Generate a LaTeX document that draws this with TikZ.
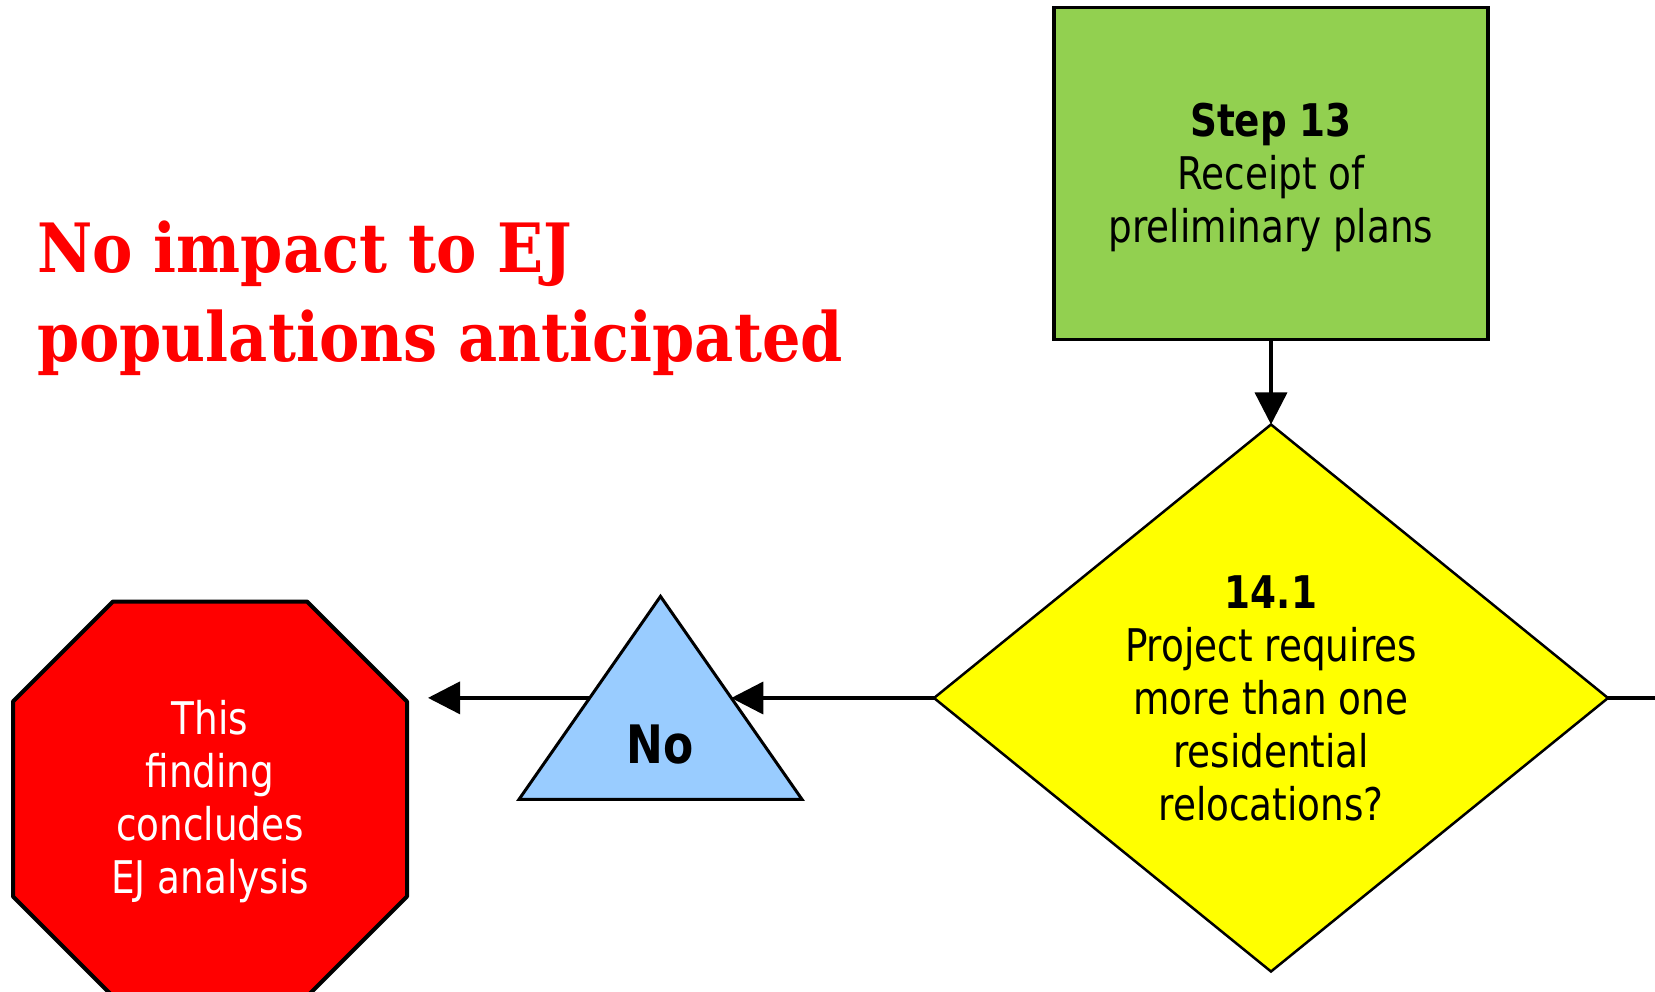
\documentclass[tikz,border=0pt]{standalone}
\usepackage{fontspec}
\usepackage{tikz}
\usetikzlibrary{shapes.geometric, arrows.meta, positioning, backgrounds}

\newfontfamily\tahoma{DejaVu Sans}[FakeStretch=0.83]
\newfontfamily\slab{DejaVu Serif}[FakeStretch=0.89]

\definecolor{stepgreen}{HTML}{92D050}
\definecolor{askyellow}{HTML}{FFFF00}
\definecolor{noblue}{HTML}{99CCFF}
\definecolor{stopred}{HTML}{FF0000}

\tikzset{
  every node/.style={outer sep=0pt, inner sep=0pt},
  flowtext/.style={font=\tahoma\fontsize{45}{53}\selectfont, align=center},
  stepbox/.style={rectangle, draw, line width=3.5pt, fill=stepgreen,
    minimum width=434pt, minimum height=332pt, flowtext},
  askdiamond/.style={diamond, aspect=1.232, draw, line width=2.5pt, fill=askyellow,
    minimum width=674pt, minimum height=547pt, flowtext},
  answer/.style={isosceles triangle, isosceles triangle stretches,
    shape border rotate=90, draw, line width=3pt, fill=noblue,
    minimum width=283pt, minimum height=203pt,
    font=\tahoma\bfseries\fontsize{53}{60}\selectfont},
  stopsign/.style={rectangle, minimum width=394pt, minimum height=395pt,
    text=white, flowtext},
  octagon/.style={draw, line width=4pt, fill=stopred, line join=round},
  arr/.style={-{Triangle[length=32pt,width=32pt]}, line width=3.5pt},
}

\begin{document}
\begin{tikzpicture}[x=1pt, y=1pt]
\useasboundingbox (0,0) rectangle (1655,-991);
\node[askdiamond] (q141) at (1271,-698)
  {\textbf{14.1}\\Project requires\\more than one\\residential\\relocations?};
\node[stepbox, above=85pt of q141] (s13)
  {\rule{0pt}{41pt}\textbf{Step 13}\\Receipt of\\preliminary plans};
\node[answer] (no) at (660.5,-735) {\rule{0pt}{58pt}No};
\node[stopsign] (stop) at (210,-799)
  {\rule{0pt}{39pt}This\\finding\\concludes\\EJ analysis};
\node[anchor=base west, align=left, text=stopred,
  font=\slab\bfseries\fontsize{68}{89}\selectfont] (ejnote) at (37,-361)
  {No impact to EJ\\populations anticipated};
\coordinate (yes) at (1655,-698);
% stop sign outline behind its text
\begin{scope}[on background layer]
\draw[octagon] ([xshift=100pt]stop.north west) -- ([xshift=-100pt]stop.north east)
  -- ([yshift=-100pt]stop.north east) -- ([yshift=100pt]stop.south east)
  -- ([xshift=-100pt]stop.south east) -- ([xshift=100pt]stop.south west)
  -- ([yshift=100pt]stop.south west) -- ([yshift=-100pt]stop.north west) -- cycle;
\end{scope}
% connectors
\draw[arr] (s13) -- (q141);
\draw[arr] (q141.west) -- (q141.west -| no.right side);
\draw[arr, shorten >=21pt] (no.left side) -- (no.left side -| stop.east);
\draw[line width=3.5pt] (q141.east) -- (yes);
\end{tikzpicture}
\end{document}
